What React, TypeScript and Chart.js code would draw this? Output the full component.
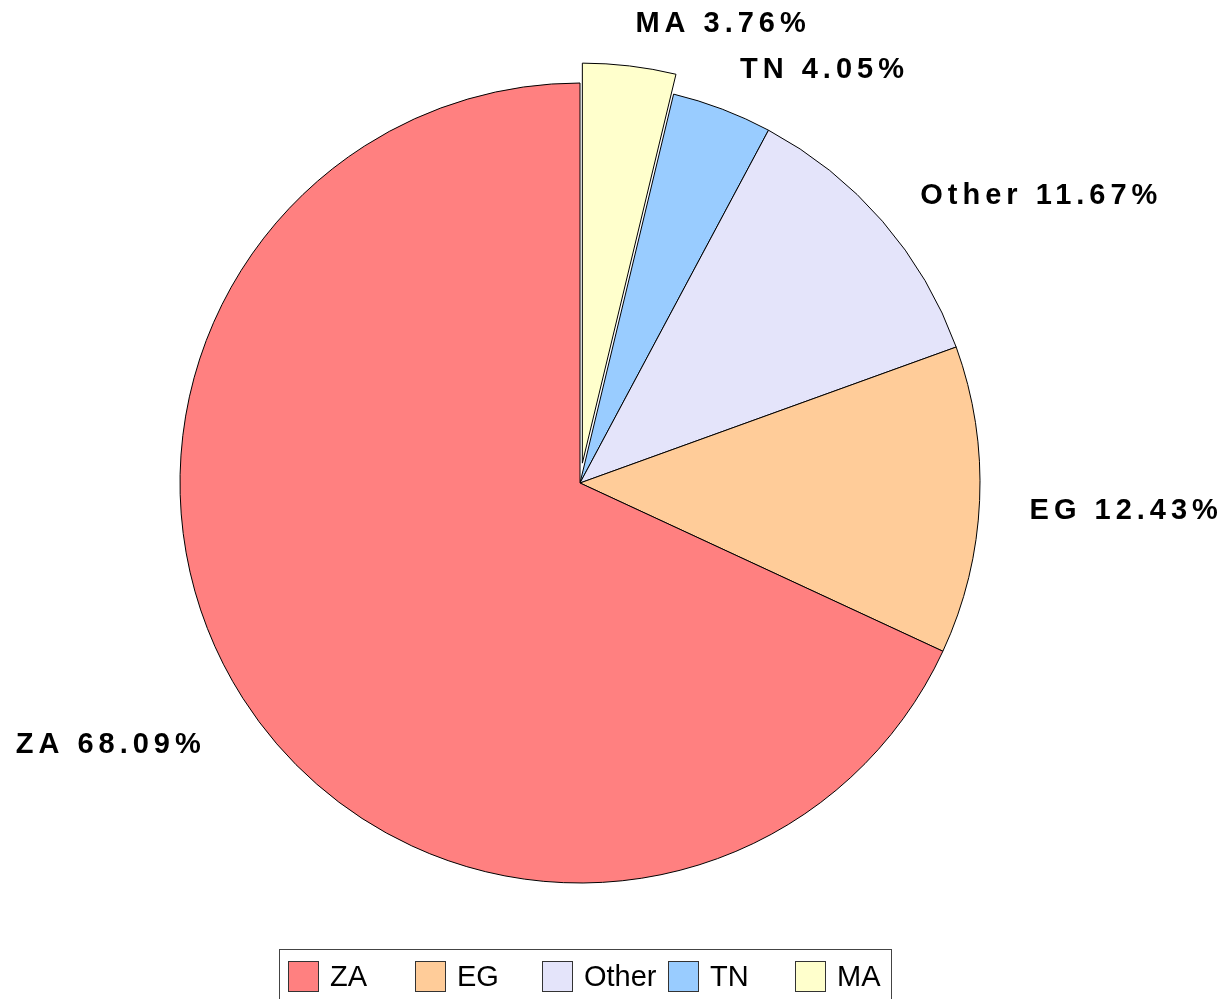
import React, { useEffect, useRef } from 'react';
import { Chart, registerables } from 'chart.js';

Chart.register(...registerables);

// Data (legend order)
const categories: string[] = ['ZA', 'EG', 'Other', 'TN', 'MA'];
const shares: number[] = [68.09, 12.43, 11.67, 4.05, 3.76];
const colors: string[] = ['#FF8080', '#FFCC99', '#E4E4FA', '#99CCFF', '#FFFFCC'];
const explode: number[] = [0, 0, 0, 0, 20];

const LABEL_FONT = 'bold 29px "Liberation Sans", Arial, sans-serif';
const LEGEND_FONT = '29px "Liberation Sans", Arial, sans-serif';

// chart draws clockwise from the top; the reference runs counter-clockwise, so feed reversed
const order = categories.map((_, i) => categories.length - 1 - i);

// Explode slices by moving the arc centre outward along its mid-angle
const explodePlugin = {
  id: 'explodeSlices',
  afterDatasetsUpdate(chart: any) {
    const meta = chart.getDatasetMeta(0);
    meta.data.forEach((arc: any, i: number) => {
      const d = explode[order[i]] || 0;
      if (!d) return;
      const mid = (arc.startAngle + arc.endAngle) / 2;
      arc.x = arc.x + Math.cos(mid) * d;
      arc.y = arc.y + Math.sin(mid) * d;
    });
  },
};

const sliceLabels = {
  id: 'sliceLabels',
  afterDatasetsDraw(chart: any) {
    const ctx = chart.ctx as CanvasRenderingContext2D;
    const meta = chart.getDatasetMeta(0);
    const ds = chart.data.datasets[0];
    ctx.save();
    ctx.font = LABEL_FONT;
    (ctx as any).letterSpacing = '5px';
    ctx.fillStyle = '#000';
    ctx.textBaseline = 'alphabetic';
    ctx.textAlign = 'left';
    meta.data.forEach((arc: any, i: number) => {
      const p = arc.getProps(['x', 'y', 'startAngle', 'endAngle', 'outerRadius'], true);
      const mid = (p.startAngle + p.endAngle) / 2;
      const r = p.outerRadius + 50;
      const px = p.x + Math.cos(mid) * r;
      const py = p.y + Math.sin(mid) * r;
      const text = `${chart.data.labels[i]} ${Number(ds.data[i]).toFixed(2)}%`;
      const w = ctx.measureText(text).width - 5;
      const tx = Math.cos(mid) >= 0 ? px : px - w;
      const ty = py + 15.5 + Math.max(0, Math.sin(mid)) * 22;
      ctx.fillText(text, tx, ty);
    });
    ctx.restore();
  },
};

const boxLegend = {
  id: 'boxLegend',
  afterDraw(chart: any) {
    const ctx = chart.ctx as CanvasRenderingContext2D;
    const left = 279;
    const top = 949;
    const width = 612;
    const itemW = 126.75;
    ctx.save();
    ctx.lineWidth = 1;
    ctx.strokeStyle = '#444';
    ctx.strokeRect(left + 0.5, top + 0.5, width, 80);
    ctx.font = LEGEND_FONT;
    ctx.textBaseline = 'alphabetic';
    ctx.textAlign = 'left';
    categories.forEach((c, i) => {
      const bx = Math.round(left + 9 + i * itemW);
      ctx.fillStyle = colors[i];
      ctx.fillRect(bx, 961, 31, 31);
      ctx.strokeStyle = '#333';
      ctx.strokeRect(bx + 0.5, 961.5, 30, 30);
      ctx.fillStyle = '#000';
      ctx.fillText(c, bx + 42, 986);
    });
    ctx.restore();
  },
};

export default function App() {
  const canvasRef = useRef<HTMLCanvasElement | null>(null);

  useEffect(() => {
    if (!canvasRef.current) return;
    const chart = new Chart(canvasRef.current, {
      type: 'pie',
      data: {
        labels: order.map((i) => categories[i]),
        datasets: [
          {
            data: order.map((i) => shares[i]),
            backgroundColor: order.map((i) => colors[i]),
            borderColor: '#000',
            borderWidth: 1,
            hoverBorderWidth: 1,
            offset: 0,
            hoverOffset: 0,
          },
        ],
      },
      options: {
        animation: false,
        responsive: false,
        devicePixelRatio: 1,
        radius: 400,
        layout: { padding: { left: 0, right: 60, top: 0, bottom: 33 } },
        events: [],
        plugins: {
          legend: { display: false },
          tooltip: { enabled: false },
          title: { display: false },
        },
      } as any,
      plugins: [explodePlugin, sliceLabels, boxLegend],
    });
    return () => chart.destroy();
  }, []);

  return (
    <div style={{ position: 'fixed', left: 0, top: 0, width: 1220, height: 999, background: '#fff' }}>
      <canvas ref={canvasRef} width={1220} height={999} style={{ display: 'block' }} />
    </div>
  );
}
